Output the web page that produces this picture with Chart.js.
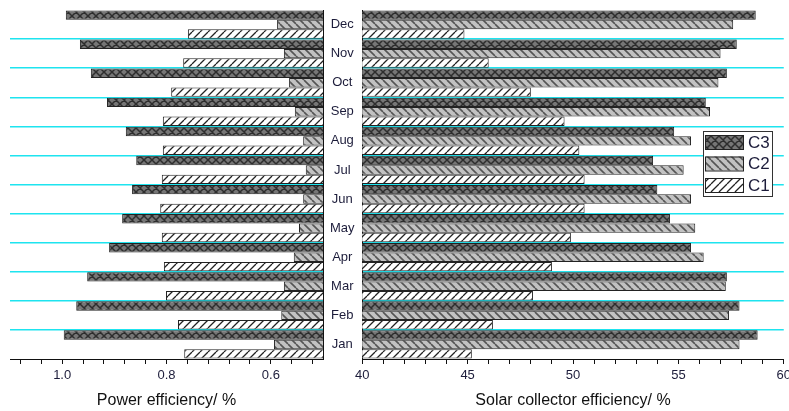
<!DOCTYPE html>
<html>
<head>
<meta charset="utf-8">
<script src="https://cdn.jsdelivr.net/npm/chart.js@4.4.1/dist/chart.umd.min.js"></script>
<style>
  html, body { margin: 0; padding: 0; background: #fff; overflow: hidden; }
  #wrap { position: relative; width: 789px; height: 411px; overflow: hidden; }
  #powerChart { position: absolute; left: 0; top: 0; }
  #solarChart { position: absolute; left: 351px; top: 0; }
</style>
</head>
<body>
<div id="wrap">
  <canvas id="powerChart" width="361" height="411"></canvas>
  <canvas id="solarChart" width="444" height="411"></canvas>
</div>
<script>
/* ---- data ---- */
var months = ['Jan', 'Feb', 'Mar', 'Apr', 'May', 'Jun', 'Jul', 'Aug', 'Sep', 'Oct', 'Nov', 'Dec'];
var seriesNames = ['C3', 'C2', 'C1'];

// power efficiency, %
var powerC3 = [0.997, 0.973, 0.952, 0.910, 0.885, 0.866, 0.858, 0.878, 0.914, 0.945, 0.966, 0.993];
var powerC2 = [0.594, 0.580, 0.575, 0.556, 0.546, 0.538, 0.533, 0.538, 0.554, 0.565, 0.575, 0.588];
var powerC1 = [0.766, 0.778, 0.801, 0.805, 0.809, 0.812, 0.809, 0.807, 0.807, 0.791, 0.768, 0.759];

// solar collector efficiency, %
var solarC3 = [58.76, 57.9, 57.3, 55.6, 54.6, 54.0, 53.8, 54.8, 56.3, 57.3, 57.77, 58.67];
var solarC2 = [57.9, 57.4, 57.25, 56.2, 55.8, 55.6, 55.25, 55.6, 56.5, 56.9, 57.0, 57.6];
var solarC1 = [45.2, 46.2, 48.1, 49.0, 49.9, 50.55, 50.55, 50.3, 49.6, 48.0, 46.0, 44.85];

// axis ticks
var powerTicks = [0.52, 0.56, 0.60, 0.64, 0.68, 0.72, 0.76, 0.80, 0.84, 0.88, 0.92, 0.96, 1.00, 1.04, 1.08];
var powerTickLabels = [0.6, 0.8, 1.0];
var solarTicks = [40, 41, 42, 43, 44, 45, 46, 47, 48, 49, 50, 51, 52, 53, 54, 55, 56, 57, 58, 59, 60];
var solarTickLabels = [40, 45, 50, 55, 60];

/* ---- look ---- */
var TXT = '#1c1c3a';
var AXIS = '#111';
var CYAN = '#1ee4ef';
Chart.defaults.font.family = '"Liberation Sans", Arial, sans-serif';
Chart.defaults.color = TXT;

function hatch(bg, fg, lw, kind) {
  var s = 8;
  var c = document.createElement('canvas');
  c.width = s; c.height = s;
  var g = c.getContext('2d');
  g.fillStyle = bg;
  g.fillRect(0, 0, s, s);
  g.strokeStyle = fg;
  g.lineWidth = lw;
  g.beginPath();
  for (var k = -1; k <= 1; k++) {
    if (kind === 'fwd' || kind === 'cross') { g.moveTo(k * s, s); g.lineTo(k * s + s, 0); }
    if (kind === 'back' || kind === 'cross') { g.moveTo(k * s, 0); g.lineTo(k * s + s, s); }
  }
  g.stroke();
  return g.createPattern(c, 'repeat');
}

var fills = [
  hatch('#767676', '#2e2e2e', 1.5, 'cross'),
  hatch('#c2c2c2', '#555', 1.6, 'back'),
  hatch('#ffffff', '#222', 1.3, 'fwd')
];

function datasets(a, b, c) {
  return [a, b, c].map(function (d, i) {
    return {
      label: seriesNames[i],
      data: d,
      backgroundColor: fills[i],
      borderColor: '#222',
      borderWidth: 1,
      categoryPercentage: 0.97,
      barPercentage: 1.0
    };
  });
}

function gridColor(c) {
  return (c.type !== 'tick' || c.index === 0) ? 'rgba(0,0,0,0)' : CYAN;
}

function pickLabel(list, digits) {
  return function (v) {
    for (var i = 0; i < list.length; i++) {
      if (Math.abs(v - list[i]) < 1e-6) return list[i].toFixed(digits);
    }
    return '';
  };
}

function xAxis(min, max, reverse, ticks, labels, digits, title) {
  return {
    type: 'linear', min: min, max: max, reverse: reverse,
    afterBuildTicks: function (s) { s.ticks = ticks.map(function (v) { return { value: v }; }); },
    afterFit: function (s) { s.height = 52; },
    grid: { drawOnChartArea: false, drawTicks: true, tickLength: 5, tickColor: AXIS, lineWidth: 1 },
    border: { display: true, color: AXIS, width: 1 },
    ticks: { autoSkip: false, maxRotation: 0, padding: 4, color: TXT, font: { size: 13 },
             callback: pickLabel(labels, digits) },
    title: { display: true, text: title, color: AXIS, font: { size: 16 }, padding: { top: 1, bottom: 1 } }
  };
}

// legend box drawn inside the right panel
var boxLegend = {
  id: 'boxLegend',
  afterDraw: function (chart) {
    var ctx = chart.ctx, a = chart.chartArea;
    var x = Math.round(a.right) - 81, y = a.top + 121, w = 69, h = 65;
    ctx.save();
    ctx.fillStyle = '#fff';
    ctx.fillRect(x, y, w, h);
    ctx.strokeStyle = '#333';
    ctx.lineWidth = 1;
    ctx.strokeRect(x + 0.5, y + 0.5, w, h);
    ctx.font = '17px "Liberation Sans", Arial, sans-serif';
    ctx.textBaseline = 'middle';
    chart.data.datasets.forEach(function (ds, i) {
      var by = y + 4 + i * 21.5;
      ctx.fillStyle = ds.backgroundColor;
      ctx.fillRect(x + 2, by, 38, 14);
      ctx.strokeStyle = '#222';
      ctx.strokeRect(x + 2.5, by + 0.5, 38, 14);
      ctx.fillStyle = TXT;
      ctx.fillText(ds.label, x + 45, by + 8);
    });
    ctx.restore();
  }
};

var common = {
  indexAxis: 'y',
  responsive: false,
  animation: false,
  events: [],
  plugins: { legend: { display: false }, tooltip: { enabled: false } }
};

/* ---- left panel: power efficiency ---- */
new Chart(document.getElementById('powerChart'), {
  type: 'bar',
  data: { labels: months, datasets: datasets(powerC3, powerC2, powerC1) },
  options: Object.assign({}, common, {
    layout: { padding: { left: 10, right: 0, top: 10, bottom: 0 } },
    scales: {
      x: xAxis(0.5, 1.1, true, powerTicks, powerTickLabels, 1, 'Power efficiency/ %'),
      y: {
        type: 'category', position: 'right', reverse: true,
        afterFit: function (s) { s.width = 38; },
        grid: { offset: true, color: gridColor, lineWidth: 1.5, drawTicks: true, tickLength: 7, tickColor: 'rgba(0,0,0,0)' },
        border: { display: true, color: AXIS, width: 1 },
        ticks: { crossAlign: 'center', padding: 0, color: TXT, font: { size: 13 } }
      }
    }
  })
});

/* ---- right panel: solar collector efficiency ---- */
new Chart(document.getElementById('solarChart'), {
  type: 'bar',
  data: { labels: months, datasets: datasets(solarC3, solarC2, solarC1) },
  options: Object.assign({}, common, {
    layout: { padding: { left: 10, right: 7, top: 10, bottom: 0 } },
    scales: {
      x: xAxis(40, 60, false, solarTicks, solarTickLabels, 0, 'Solar collector efficiency/ %'),
      y: {
        type: 'category', position: 'left', reverse: true,
        afterFit: function (s) { s.width = 0; },
        grid: { offset: true, color: gridColor, lineWidth: 1.5, drawTicks: false },
        border: { display: true, color: AXIS, width: 1 },
        ticks: { display: false }
      }
    }
  }),
  plugins: [boxLegend]
});
</script>
</body>
</html>
